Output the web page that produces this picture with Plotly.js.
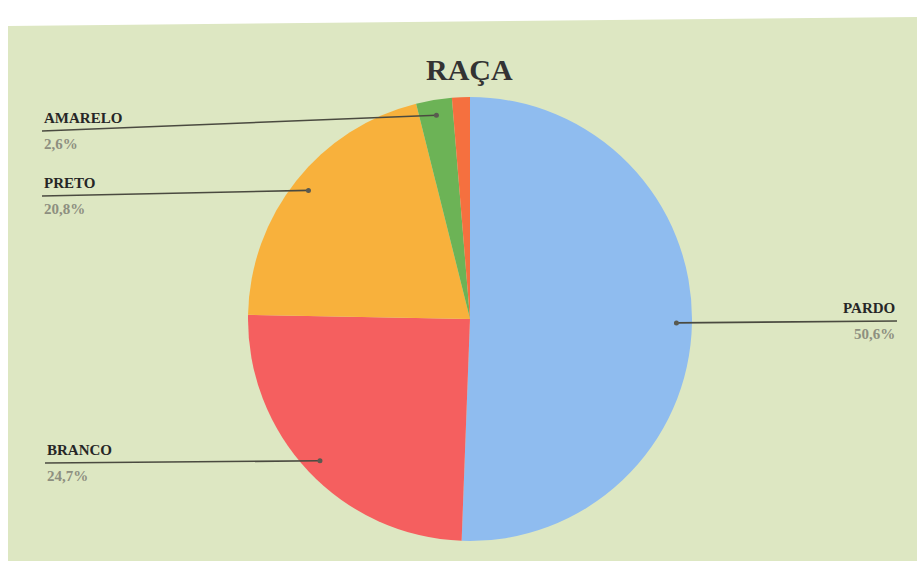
<!DOCTYPE html>
<html>
<head>
<meta charset="utf-8">
<script src="https://cdn.plot.ly/plotly-3.0.1.min.js"></script>
<style>html,body{margin:0;padding:0;background:#fff;}#chart{width:917px;height:561px;}</style>
</head>
<body>
<div id="chart"></div>
<script>
// Data
var categories = ["PARDO", "BRANCO", "PRETO", "AMARELO", "OUTROS"];
var values = [50.6, 24.7, 20.8, 2.6, 1.3];
var pctLabels = ["50,6%", "24,7%", "20,8%", "2,6%", ""];
var showLabel = [true, true, true, true, false];
var colors = ["#8fbcef", "#f55f5f", "#f8b13c", "#6cb356", "#f5703f"];

var W = 917, H = 561;
var SERIF = "'Liberation Serif', 'DejaVu Serif', 'Times New Roman', serif";
// pie placement in pixels
var cx = 470, cy = 319, R = 222;
var dom = {x: [(cx - R) / W, (cx + R) / W], y: [1 - (cy + R) / H, 1 - (cy - R) / H]};

function px(x) { return x / W; }
function py(y) { return 1 - y / H; }

// label layout (pixel anchors)
var labelPos = {
  "PARDO":   {x: 897, y: 321, side: "right"},
  "BRANCO":  {x: 45,  y: 463, side: "left"},
  "PRETO":   {x: 42,  y: 196, side: "left"},
  "AMARELO": {x: 42,  y: 131, side: "left"}
};

var shapes = [
  // green scanned page
  {type: "path", xref: "paper", yref: "paper",
   path: "M " + px(8) + "," + py(26) + " L " + px(917) + "," + py(17) + " L " + px(917) + "," + py(561) + " L " + px(8) + "," + py(561) + " Z",
   fillcolor: "#dde7c2", line: {width: 0}, layer: "below"}
];
var annotations = [
  {text: "<b>RAÇA</b>", xref: "paper", yref: "paper", x: px(470), y: py(69), xanchor: "center", yanchor: "middle",
   showarrow: false, font: {family: SERIF, size: 30, color: "#333"}}
];

var total = values.reduce(function (a, b) { return a + b; }, 0);
var cum = 0;
for (var i = 0; i < categories.length; i++) {
  var mid = (cum + values[i] / 2) / total;
  cum += values[i];
  if (!showLabel[i]) continue;
  var ang = mid * 2 * Math.PI;
  var ex = cx + 0.93 * R * Math.sin(ang);
  var ey = cy - 0.93 * R * Math.cos(ang);
  var lp = labelPos[categories[i]];
  var left = lp.side === "left";
  shapes.push({type: "line", xref: "paper", yref: "paper", x0: px(lp.x), y0: py(lp.y), x1: px(ex), y1: py(ey),
               line: {color: "#4a4a40", width: 1.6}});
  shapes.push({type: "circle", xref: "paper", yref: "paper", x0: px(ex - 2.5), x1: px(ex + 2.5), y0: py(ey + 2.5), y1: py(ey - 2.5),
               fillcolor: "#5a5a50", line: {width: 0}});
  annotations.push({text: "<b>" + categories[i] + "</b>", xref: "paper", yref: "paper",
    x: px(lp.x), y: py(lp.y - 3), xanchor: left ? "left" : "right", yanchor: "bottom", showarrow: false,
    font: {family: SERIF, size: 15, color: "#262626"}});
  annotations.push({text: "<b>" + pctLabels[i] + "</b>", xref: "paper", yref: "paper",
    x: px(lp.x), y: py(lp.y + 3), xanchor: left ? "left" : "right", yanchor: "top", showarrow: false,
    font: {family: SERIF, size: 15, color: "#8d8f80"}});
}

var trace = {
  type: "pie",
  labels: categories,
  values: values,
  sort: false,
  direction: "clockwise",
  rotation: 0,
  textinfo: "none",
  hoverinfo: "label+percent",
  marker: {colors: colors, line: {width: 0}},
  domain: dom,
  showlegend: false
};

var layout = {
  width: W, height: H,
  margin: {l: 0, r: 0, t: 0, b: 0},
  paper_bgcolor: "#ffffff",
  plot_bgcolor: "rgba(0,0,0,0)",
  showlegend: false,
  font: {family: SERIF},
  shapes: shapes,
  annotations: annotations
};

Plotly.newPlot("chart", [trace], layout, {displayModeBar: false, staticPlot: true});
</script>
</body>
</html>
